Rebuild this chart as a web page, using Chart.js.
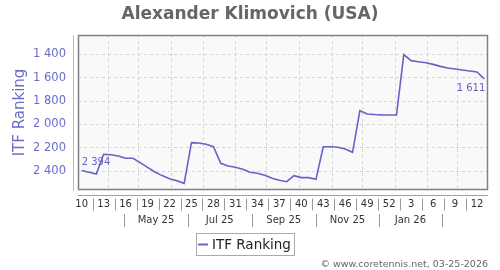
<!DOCTYPE html>
<html><head><meta charset="utf-8">
<script src="https://cdn.jsdelivr.net/npm/chart.js@4.4.1/dist/chart.umd.min.js"></script>
<style>html,body{margin:0;padding:0;background:#fff}canvas{display:block}</style>
</head><body>
<canvas id="c" width="500" height="270"></canvas>
<script>
// week numbers, 2025 wk10 .. 2026 wk13
const weeks=[10,11,12,13,14,15,16,17,18,19,20,21,22,23,24,25,26,27,28,29,30,31,32,33,34,35,36,37,38,39,40,41,42,43,44,45,46,47,48,49,50,51,52,
  1,2,3,4,5,6,7,8,9,10,11,12,13];
const ranks=[2394,2409,2423,2255,2258,2269,2289,2289,2326,2366,2406,2437,2463,2480,2503,
  2155,2158,2169,2190,2332,2355,2366,2383,2409,2417,2434,2460,2477,2489,2437,2454,2454,2469,
  2190,2190,2195,2210,2238,1882,1910,1915,1918,1919,1919,
  1402,1454,1463,1472,1486,1503,1517,1526,1534,1543,1551,1611];
const yTicks=[1400,1600,1800,2000,2200,2400];
const gridIdx=[3.6,7.8,12.3,16.6,21.0,25.3,29.7,34.2,38.4,42.9,47.2,51.3];
const months=['May 25','Jul 25','Sep 25','Nov 25','Jan 26'];
const monthSep=[5.8,14.5,23.2,32.0,40.6,49.2];

const FONT='"DejaVu Sans", sans-serif';
const LINE='#6464c8', AXIS='#6b6bcc';
const fmt=v=>String(v).replace(/\B(?=(\d{3})+(?!\d))/g,' ');

const deco={id:'deco',
  beforeDraw(c){
    const a=c.chartArea,x=c.ctx;
    x.save();x.fillStyle='#f9f9f9';x.fillRect(a.left,a.top,a.right-a.left,a.bottom-a.top);x.restore();
  },
  afterDraw(c){
    const a=c.chartArea,x=c.ctx,sx=c.scales.x,sy=c.scales.y;
    x.save();
    // plot frame + axis lines
    x.strokeStyle='#808080';x.lineWidth=1.5;
    x.strokeRect(a.left+0.5,a.top+0.5,a.right-a.left-1,a.bottom-a.top-1);
    x.lineWidth=1;
    x.strokeStyle='#b8b8e6';
    x.beginPath();x.moveTo(73.5,a.top);x.lineTo(73.5,a.bottom+1);x.stroke();
    x.strokeStyle='#a0a0a0';
    x.beginPath();x.moveTo(a.left,195.5);x.lineTo(a.right,195.5);x.stroke();
    // week labels every 3rd week
    x.font='10px '+FONT;x.fillStyle='#333';x.textAlign='center';x.textBaseline='middle';
    x.strokeStyle='#999';
    for(let i=0;i<weeks.length;i+=3){
      x.fillText(String(weeks[i]),sx.getPixelForValue(i),204.5);
      if(i+3<weeks.length){
        const p=Math.round(sx.getPixelForValue(i+1.5))+0.5;
        x.beginPath();x.moveTo(p,198.5);x.lineTo(p,210.5);x.stroke();
      }
    }
    // month row
    monthSep.forEach(v=>{
      const p=Math.round(sx.getPixelForValue(v))+0.5;
      x.beginPath();x.moveTo(p,214);x.lineTo(p,227);x.stroke();
    });
    months.forEach((m,k)=>{
      x.fillText(m,(sx.getPixelForValue(monthSep[k])+sx.getPixelForValue(monthSep[k+1]))/2,220.5);
    });
    // first / last value labels
    x.fillStyle=LINE;x.font='10px '+FONT;
    const n=ranks.length-1;
    x.textAlign='left';
    x.fillText(fmt(ranks[0]),sx.getPixelForValue(0),sy.getPixelForValue(ranks[0])-8.5);
    x.textAlign='right';
    x.fillText(fmt(ranks[n]),sx.getPixelForValue(n)+1,sy.getPixelForValue(ranks[n])+9);
    // title
    x.fillStyle='#666';x.font='bold 17px '+FONT;x.textAlign='center';x.textBaseline='alphabetic';
    x.fillText('Alexander Klimovich (USA)',250,19);
    // legend
    x.strokeStyle='#aaa';x.lineWidth=1;
    x.strokeRect(196.5,233.5,98,22);
    x.strokeStyle=LINE;x.lineWidth=2;
    x.beginPath();x.moveTo(198,244.5);x.lineTo(208,244.5);x.stroke();
    x.fillStyle='#222';x.font='13.5px '+FONT;x.textAlign='left';x.textBaseline='middle';
    x.fillText('ITF Ranking',212,245);
    // footer
    x.fillStyle='#666';x.font='9.5px '+FONT;x.textAlign='right';
    x.fillText('\u00a9 www.coretennis.net, 03-25-2026',488,265);
    x.restore();
  }
};

new Chart(document.getElementById('c'),{
  type:'line',
  data:{datasets:[{
    label:'ITF Ranking',
    data:ranks.map((v,i)=>({x:i,y:v})),
    borderColor:LINE,borderWidth:1.6,pointRadius:0,tension:0,fill:false
  }]},
  options:{
    responsive:false,animation:false,devicePixelRatio:1,
    layout:{padding:{left:0,right:12,top:35,bottom:0}},
    plugins:{legend:{display:false},title:{display:false},tooltip:{enabled:false}},
    scales:{
      x:{type:'linear',min:-0.5,max:55.5,
        afterBuildTicks:s=>{s.ticks=gridIdx.map(v=>({value:v}));},
        afterFit:s=>{s.height=80;},
        ticks:{display:false},
        grid:{color:'#d4d4d4',drawTicks:false},
        border:{display:false,dash:[3,3]}},
      y:{reverse:true,min:1235,max:2560,
        afterBuildTicks:s=>{s.ticks=yTicks.map(v=>({value:v}));},
        afterFit:s=>{s.width=78;},
        ticks:{color:AXIS,font:{family:FONT,size:11.5},padding:12,callback:v=>fmt(v)},
        grid:{color:'#d4d4d4',drawTicks:false},
        border:{display:false,dash:[3,3]},
        title:{display:true,text:'ITF Ranking',color:AXIS,font:{family:FONT,size:15},padding:{top:11,bottom:0}}}
    }
  },
  plugins:[deco]
});
</script>
</body></html>
